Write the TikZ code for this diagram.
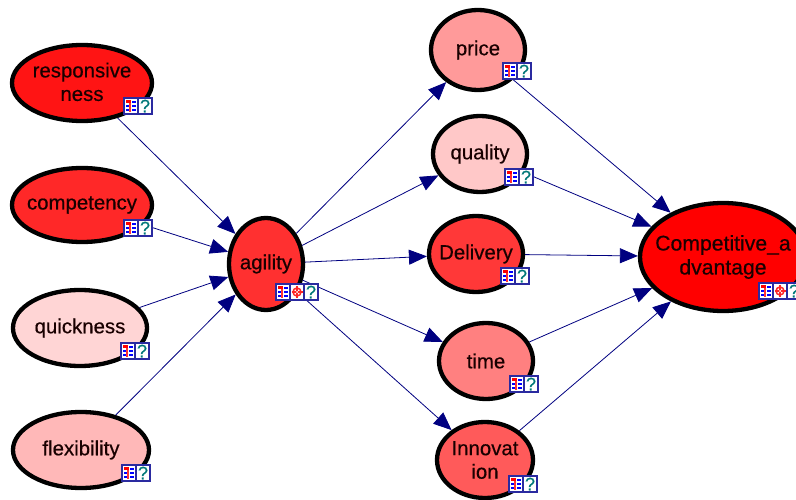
\documentclass[tikz,border=0pt]{standalone}
\usepackage{fontspec}
\setmainfont[FakeBold=0.45]{Liberation Sans}
\usetikzlibrary{shapes.geometric,arrows.meta}
\definecolor{linknavy}{HTML}{000080}
\definecolor{qteal}{HTML}{007878}
\definecolor{boxblue}{HTML}{2A2AA0}
\newcommand{\up}[1]{\raisebox{2.5pt}{#1}}
\tikzset{
  x=1pt,y=-1pt,
  bn/.style={ellipse,draw=black,line width=4.3pt,inner sep=-15pt,align=center,
    text=black!90!red,font=\fontsize{20.4}{23.5}\selectfont},
  link/.style={draw=linknavy,line width=0.8pt,-{Triangle[length=18pt,width=15pt,fill=linknavy]}},
  iconbox/.style={draw=boxblue,line width=1.3pt,fill=white},
  pics/tableicon/.style={code={
    \draw[iconbox] (0,0) rectangle (14,16);
    \fill[red] (2,2) rectangle (7,5);
    \fill[red!80!white] (5,5) rectangle (7,14);
    \fill[blue] (8,3) rectangle (12,5);
    \fill[blue] (2,7) rectangle (5,9);
    \fill[blue] (8,7) rectangle (12,9);
    \fill[blue] (2,11) rectangle (5,13);
    \fill[blue] (8,11) rectangle (12,13);
  }},
  pics/targeticon/.style={code={
    \draw[iconbox] (0,0) rectangle (14,16);
    \draw[red!85!white,line width=1.5pt] (7,8) circle (4);
    \draw[red!85!white,line width=1.3pt] (7,2) -- (7,14) (1.5,8) -- (12.5,8);
    \fill[white] (7,8) circle (1);
  }},
  pics/qicon/.style={code={
    \draw[iconbox] (0,0) rectangle (14,16);
    \node[text=qteal,inner sep=0pt,font=\fontsize{18}{18}\selectfont] (q) at (7,8) {?};
  }},
}
\begin{document}
\begin{tikzpicture}
\useasboundingbox (0,0) rectangle (796,500);
\node[bn,fill={rgb,255:red,255;green,20;blue,20},minimum width=140pt,minimum height=76pt] (resp) at (82,83) {\up{responsive}\\\up{ness}};
\node[bn,fill={rgb,255:red,255;green,40;blue,40},minimum width=140pt,minimum height=74pt] (comp) at (82,205) {competency};
\node[bn,fill={rgb,255:red,255;green,213;blue,213},minimum width=134pt,minimum height=76pt] (quick) at (80,328) {quickness};
\node[bn,fill={rgb,255:red,255;green,184;blue,184},minimum width=136pt,minimum height=76pt] (flex) at (81,450) {flexibility};
\node[bn,fill={rgb,255:red,255;green,48;blue,48},minimum width=74pt,minimum height=92pt] (agil) at (266,264) {agility};
\node[bn,fill={rgb,255:red,255;green,154;blue,154},minimum width=94pt,minimum height=80pt] (price) at (478,50) {price};
\node[bn,fill={rgb,255:red,255;green,200;blue,200},minimum width=94pt,minimum height=76pt] (qual) at (480,154) {quality};
\node[bn,fill={rgb,255:red,255;green,56;blue,56},minimum width=94pt,minimum height=76pt] (deliv) at (476,254) {Delivery};
\node[bn,fill={rgb,255:red,255;green,128;blue,128},minimum width=94pt,minimum height=76pt] (time) at (486,361) {time};
\node[bn,fill={rgb,255:red,255;green,90;blue,90},minimum width=96pt,minimum height=76pt] (innov) at (485,460) {Innovat\\ion};
\node[bn,fill=red,minimum width=166pt,minimum height=108pt,font=\fontsize{21.2}{24}\selectfont] (adv) at (723,257) {\up{Competitive\_a}\\\up{dvantage}};
\draw[link] (resp) -- (agil);
\draw[link] (comp) -- (agil);
\draw[link] (quick) -- (agil);
\draw[link] (flex) -- (agil);
\draw[link] (agil) -- (price);
\draw[link] (agil) -- (qual);
\draw[link] (agil) -- (deliv);
\draw[link] (agil) -- (time);
\draw[link] (agil) -- (innov);
\draw[link] (price) -- (adv);
\draw[link] (qual) -- (adv);
\draw[link] (deliv) -- (adv);
\draw[link] (time) -- (adv);
\draw[link] (innov) -- (adv);
\pic at (124,98) {tableicon}; \pic at (138,98) {qicon};
\pic at (124,220) {tableicon}; \pic at (138,220) {qicon};
\pic at (121,343) {tableicon}; \pic at (135,343) {qicon};
\pic at (122,465) {tableicon}; \pic at (136,465) {qicon};
\pic at (276,284) {tableicon}; \pic at (290,284) {targeticon}; \pic at (304,284) {qicon};
\pic at (503,63) {tableicon}; \pic at (517,63) {qicon};
\pic at (505,169) {tableicon}; \pic at (519,169) {qicon};
\pic at (501,268) {tableicon}; \pic at (515,268) {qicon};
\pic at (510,376) {tableicon}; \pic at (524,376) {qicon};
\pic at (509,476) {tableicon}; \pic at (523,476) {qicon};
\pic at (759,283) {tableicon}; \pic at (773,283) {targeticon}; \pic at (787,283) {qicon};
\end{tikzpicture}
\end{document}
